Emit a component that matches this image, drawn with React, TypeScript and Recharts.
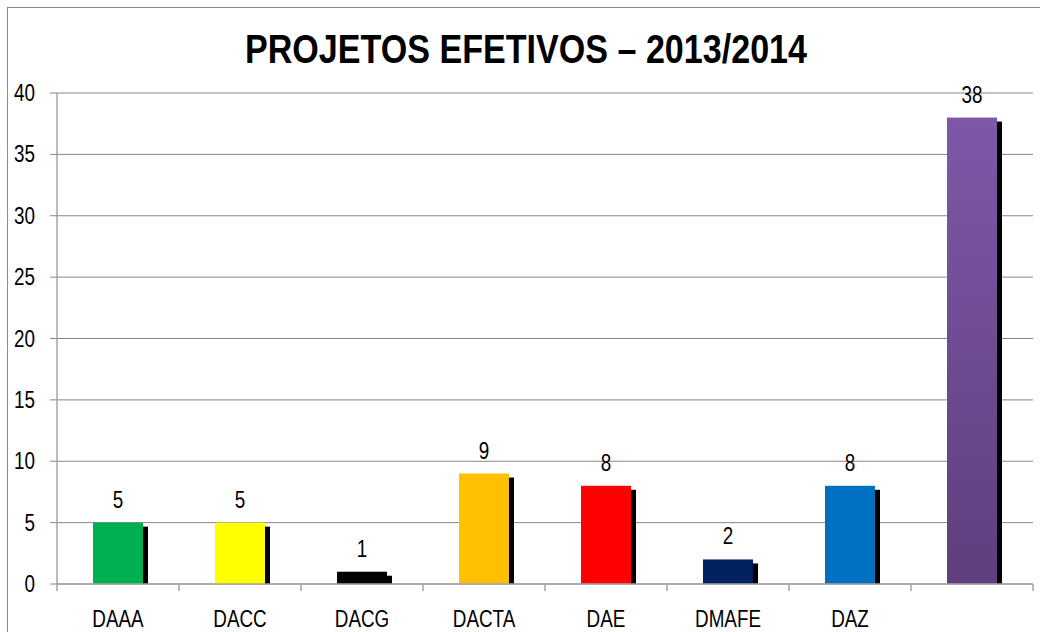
import React from 'react'
import { BarChart, Bar, XAxis, YAxis, CartesianGrid, Cell, LabelList } from 'recharts'

const categories = ['DAAA', 'DACC', 'DACG', 'DACTA', 'DAE', 'DMAFE', 'DAZ', '']
const values = [5, 5, 1, 9, 8, 2, 8, 38]
const barColors = ['#00B050', '#FFFF00', '#000000', '#FFC000', '#FF0000', '#002060', '#0070C0', 'url(#purpleGrad)']
const yTicks = [0, 5, 10, 15, 20, 25, 30, 35, 40]

const data = categories.map((name, i) => ({ name, value: values[i] }))

// no narrow font installed, so squeeze Liberation Sans horizontally
const FONT = "'Liberation Sans', Arial, sans-serif"
const NARROW = 0.82

const NarrowText = ({ x, y, anchor, size, children }: any) => (
    <text
        transform={`translate(${x},${y}) scale(${NARROW},1)`}
        textAnchor={anchor}
        fontSize={size}
        fill="#000"
        fontFamily={FONT}
    >
        {children}
    </text>
)

const ShadowBar = (props: any) => {
    const { x, y, width, height, fill } = props
    if (height <= 0) return null
    return (
        <g>
            <rect x={x + width} y={y + 4} width={5} height={Math.max(height - 4, 0)} fill="#000000" />
            <rect x={x} y={y} width={width} height={height} fill={fill} />
        </g>
    )
}

const XTick = ({ x, y, payload }: any) => (
    <NarrowText x={x} y={y + 35} anchor="middle" size={23}>
        {payload.value}
    </NarrowText>
)

const YTick = ({ x, y, payload }: any) => (
    <NarrowText x={x - 13} y={y + 8} anchor="end" size={23}>
        {payload.value}
    </NarrowText>
)

const ValueLabel = ({ x, y, width, value }: any) => (
    <NarrowText x={x + width / 2} y={y - 15} anchor="middle" size={23}>
        {value}
    </NarrowText>
)

export default function App() {
    return (
        <div style={{ position: 'absolute', left: 0, top: 0, width: 1040, height: 632, overflow: 'hidden', background: '#fff' }}>
            <div style={{ position: 'absolute', left: 7, top: 7, width: 1100, height: 700, border: '1px solid #8c8c8c' }} />
            <div style={{ position: 'absolute', left: 0, top: 0 }}>
                <BarChart width={1040} height={632} data={data} margin={{ top: 93, right: 7, left: 7, bottom: 8 }}>
                    <defs>
                        <linearGradient id="purpleGrad" x1="0" y1="0" x2="0" y2="1">
                            <stop offset="0%" stopColor="#7E58A8" />
                            <stop offset="100%" stopColor="#5E3F7D" />
                        </linearGradient>
                    </defs>
                    <text
                        x={526}
                        y={63}
                        textAnchor="middle"
                        fontSize={41}
                        fontWeight="bold"
                        fontFamily={FONT}
                        fill="#000"
                        textLength={562}
                        lengthAdjust="spacingAndGlyphs"
                    >
                        PROJETOS EFETIVOS – 2013/2014
                    </text>
                    <CartesianGrid vertical={false} stroke="#868686" strokeWidth={1} />
                    <XAxis
                        dataKey="name"
                        height={40}
                        interval={0}
                        axisLine={{ stroke: '#a6a6a6', strokeWidth: 1.5 }}
                        tickLine={false}
                        tick={<XTick />}
                    />
                    <YAxis
                        width={50}
                        domain={[0, 40]}
                        ticks={yTicks}
                        axisLine={{ stroke: '#a6a6a6', strokeWidth: 1.5 }}
                        tickLine={{ stroke: '#868686' }}
                        tickSize={7}
                        tick={<YTick />}
                    />
                    <Bar dataKey="value" barSize={50} shape={<ShadowBar />} isAnimationActive={false}>
                        {data.map((d, i) => (
                            <Cell key={d.name + i} fill={barColors[i]} />
                        ))}
                        <LabelList dataKey="value" content={<ValueLabel />} />
                    </Bar>
                </BarChart>
            </div>
            <svg style={{ position: 'absolute', left: 0, top: 0 }} width={1040} height={632}>
                {categories.map((c, i) => (
                    <line key={i} x1={57 + i * 122} x2={57 + i * 122} y1={584} y2={591} stroke="#a6a6a6" strokeWidth={1.5} />
                ))}
                <line x1={1033} x2={1033} y1={584} y2={591} stroke="#a6a6a6" strokeWidth={1.5} />
            </svg>
        </div>
    )
}
